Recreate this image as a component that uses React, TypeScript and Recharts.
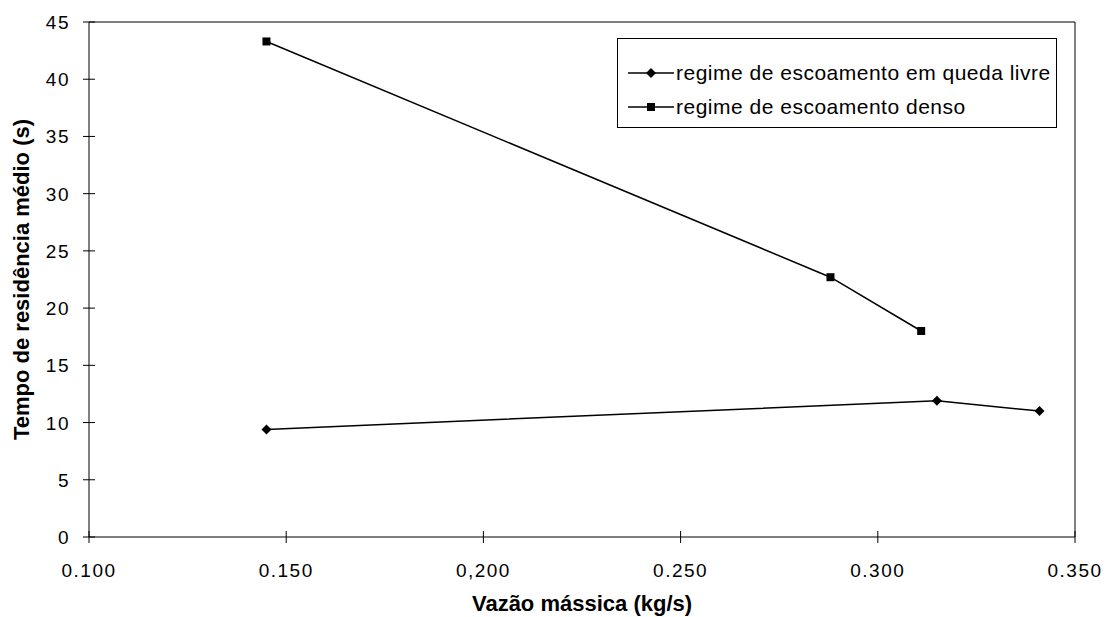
import { LineChart, Line, XAxis, YAxis } from "recharts";

const quedaLivre = [
  { x: 0.145, y: 9.4 },
  { x: 0.315, y: 11.9 },
  { x: 0.341, y: 11.0 },
];

const denso = [
  { x: 0.145, y: 43.3 },
  { x: 0.288, y: 22.7 },
  { x: 0.311, y: 18.0 },
];

const xTicks = [0.1, 0.15, 0.2, 0.25, 0.3, 0.35];
const xTickLabels = ["0.100", "0.150", "0,200", "0.250", "0.300", "0.350"];
const yTicks = [0, 5, 10, 15, 20, 25, 30, 35, 40, 45];

const seriesNames = [
  "regime de escoamento em queda livre",
  "regime de escoamento denso",
];

const FONT = "'Liberation Sans', Arial, sans-serif";

const Diamond = (props: any) => {
  const { cx, cy } = props;
  if (cx == null || cy == null) return null;
  const r = 5;
  return (
    <polygon
      points={`${cx},${cy - r} ${cx + r},${cy} ${cx},${cy + r} ${cx - r},${cy}`}
      fill="#000"
    />
  );
};

const Square = (props: any) => {
  const { cx, cy } = props;
  if (cx == null || cy == null) return null;
  return <rect x={cx - 4} y={cy - 4} width={8} height={8} fill="#000" />;
};

// ticks cross the axis line like the original ("+" marks)
const YTick = (props: any) => {
  const { x, y, payload } = props;
  return (
    <g>
      <line x1={x - 6} x2={x + 6} y1={y} y2={y} stroke="#000" />
      <text
        x={x - 19}
        y={y}
        dy={7}
        textAnchor="end"
        fontSize={19}
        letterSpacing={1.5}
        fill="#000"
        fontFamily={FONT}
      >
        {payload.value}
      </text>
    </g>
  );
};

const XTick = (props: any) => {
  const { x, y, payload, index } = props;
  return (
    <g>
      <line x1={x} x2={x} y1={y - 6} y2={y + 6} stroke="#000" />
      <text
        x={x}
        y={y}
        dy={40}
        textAnchor="middle"
        fontSize={19}
        letterSpacing={1.5}
        fill="#000"
        fontFamily={FONT}
      >
        {xTickLabels[index] ?? payload.value}
      </text>
    </g>
  );
};

const LegendBox = () => (
  <div
    style={{
      position: "absolute",
      left: 617,
      top: 38,
      border: "1px solid #000",
      background: "#fff",
      width: 440,
      height: 90,
      boxSizing: "border-box",
      fontFamily: FONT,
      fontSize: 21,
      letterSpacing: 0.5,
      color: "#000",
      paddingTop: 17,
    }}
  >
    {seriesNames.map((name, i) => (
      <div key={name} style={{ display: "flex", alignItems: "center", height: 34 }}>
        <svg width={56} height={14} style={{ marginLeft: 10, flex: "none" }}>
          <line x1={0} x2={46} y1={7} y2={7} stroke="#000" strokeWidth={1.5} />
          {i === 0 ? (
            <polygon points="23,2 28,7 23,12 18,7" fill="#000" />
          ) : (
            <rect x={19} y={3} width={8} height={8} fill="#000" />
          )}
        </svg>
        <span style={{ marginLeft: -8, whiteSpace: "nowrap" }}>{name}</span>
      </div>
    ))}
  </div>
);

export default function App() {
  return (
    <div
      style={{
        position: "fixed",
        left: 0,
        top: 0,
        width: 1106,
        height: 617,
        background: "#fff",
      }}
    >
      <LineChart
        width={1106}
        height={617}
        margin={{ top: 22, right: 31, bottom: 0, left: 0 }}
      >
        <XAxis
          type="number"
          dataKey="x"
          domain={[0.1, 0.35]}
          ticks={xTicks}
          allowDataOverflow
          tick={<XTick />}
          tickLine={false}
          tickSize={0}
          tickMargin={0}
          height={80}
          stroke="#000"
          label={{
            value: "Vazão mássica (kg/s)",
            position: "insideBottom",
            offset: 6,
            style: { fontFamily: FONT, fontSize: 22, fontWeight: "bold", fill: "#000" },
          }}
        />
        <YAxis
          type="number"
          domain={[0, 45]}
          ticks={yTicks}
          tick={<YTick />}
          tickLine={false}
          tickSize={0}
          tickMargin={0}
          width={89}
          stroke="#000"
          label={{
            value: "Tempo de residência médio (s)",
            angle: -90,
            position: "insideLeft",
            offset: 21,
            style: {
              textAnchor: "middle",
              fontFamily: FONT,
              fontSize: 22,
              fontWeight: "bold",
              fill: "#000",
            },
          }}
        />
        <Line
          data={quedaLivre}
          dataKey="y"
          name={seriesNames[0]}
          stroke="#000"
          strokeWidth={1.5}
          dot={<Diamond />}
          isAnimationActive={false}
        />
        <Line
          data={denso}
          dataKey="y"
          name={seriesNames[1]}
          stroke="#000"
          strokeWidth={1.5}
          dot={<Square />}
          isAnimationActive={false}
        />
      </LineChart>
      <svg
        width={1106}
        height={617}
        style={{ position: "absolute", left: 0, top: 0, pointerEvents: "none" }}
      >
        <polyline points="89,22 1075,22 1075,537" fill="none" stroke="#000" strokeWidth={1} />
      </svg>
      <LegendBox />
    </div>
  );
}
